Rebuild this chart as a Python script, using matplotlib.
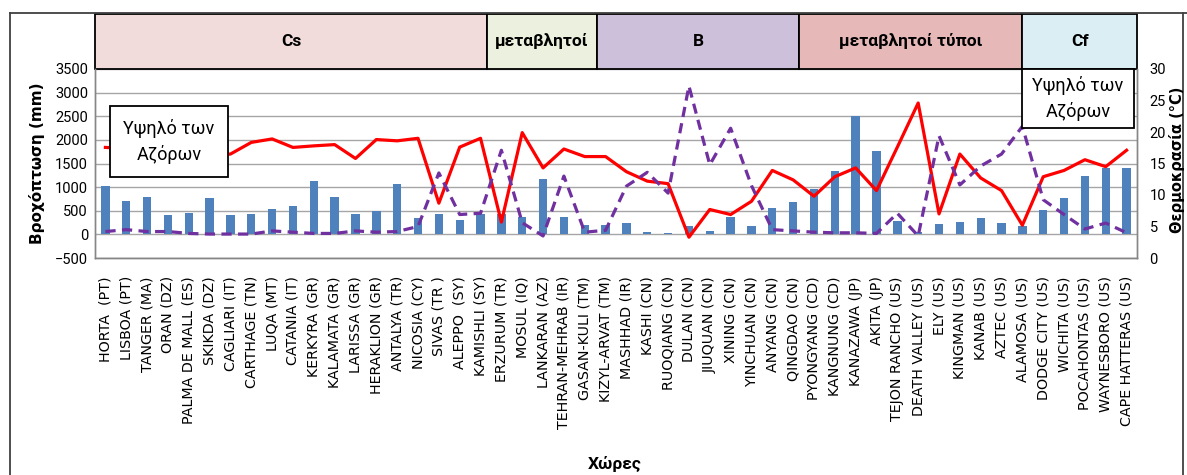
import numpy as np
from matplotlib import pyplot as plt
from matplotlib import transforms
from matplotlib.patches import Rectangle
from matplotlib.lines import Line2D

stations = [
    "HORTA  (PT)", "LISBOA (PT)", "TANGER (MA)", "ORAN (DZ)", "PALMA DE MALL (ES)",
    "SKIKDA (DZ)", "CAGLIARI (IT)", "CARTHAGE (TN)", "LUQA (MT)", "CATANIA (IT)",
    "KERKYRA (GR)", "KALAMATA (GR)", "LARISSA (GR)", "HERAKLION (GR)", "ANTALYA (TR)",
    "NICOSIA (CY)", "SIVAS (TR )", "ALEPPO  (SY)", "KAMISHLI (SY)", "ERZURUM (TR)",
    "MOSUL (IQ)", "LANKARAN (AZ)", "TEHRAN-MEHRAB (IR)", "GASAN-KULI (TM)", "KIZYL-ARVAT (TM)",
    "MASHHAD (IR)", "KASHI (CN)", "RUOQIANG (CN)", "DULAN (CN)", "JIUQUAN (CN)",
    "XINING (CN)", "YINCHUAN (CN)", "ANYANG (CN)", "QINGDAO (CN)", "PYONGYANG (CD)",
    "KANGNUNG (CD)", "KANAZAWA (JP)", "AKITA (JP)", "TEJON RANCHO (US)", "DEATH VALLEY (US)",
    "ELY (US)", "KINGMAN (US)", "KANAB (US)", "AZTEC (US)", "ALAMOSA (US)",
    "DODGE CITY (US)", "WICHITA (US)", "POCAHONTAS (US)", "WAYNESBORO (US)", "CAPE HATTERAS (US)",
]

# precipitation (mm), left axis
rain = [1025, 707, 799, 410, 452, 771, 410, 438, 544, 608,
        1132, 799, 438, 488, 1068, 352, 438, 311, 438, 430,
        374, 1174, 374, 204, 204, 246, 56, 20, 183, 77,
        374, 183, 565, 686, 962, 1344, 2512, 1762, 282, 50,
        225, 268, 352, 246, 183, 516, 777, 1238, 1401, 1401]

# mean temperature (C), right axis
temp = [17.55, 17.4, 17.8, 18.0, 17.2, 16.3, 16.5, 18.35, 18.9, 17.55,
        17.8, 18.0, 15.8, 18.8, 18.6, 19.0, 8.7, 17.6, 19.0, 5.7,
        19.9, 14.3, 17.3, 16.1, 16.1, 13.7, 12.2, 11.8, 3.3, 7.7,
        6.9, 9.0, 13.9, 12.4, 9.8, 12.9, 14.3, 10.7, 17.6, 24.6,
        7.0, 16.5, 12.7, 10.7, 5.2, 12.9, 13.9, 15.6, 14.5, 17.1]

# dashed series, right axis
dashed = [4.2, 4.5, 4.2, 4.2, 3.9, 3.8, 3.8, 3.8, 4.3, 4.1,
          3.9, 3.9, 4.3, 4.1, 4.2, 5.0, 13.5, 6.9, 7.1, 17.1,
          5.6, 3.5, 13.0, 4.1, 4.4, 11.4, 13.6, 10.3, 27.3, 14.8,
          20.6, 11.5, 4.5, 4.3, 4.1, 4.0, 4.0, 3.9, 7.1, 3.5,
          19.4, 11.6, 14.6, 16.5, 20.9, 9.25, 6.9, 4.6, 5.55, 4.0]

# climate groups along the top band (label, start, end in category units)
groups = ["Cs", "μεταβλητοί", "B", "μεταβλητοί τύποι", "Cf"]
group_edges = [-0.5, 18.3, 23.6, 33.3, 44.0, 49.5]
group_colors = ["#F2DCDB", "#EBF1DE", "#CCC0DA", "#E6B9B8", "#DBEEF4"]

W, H = 1187, 475


def fx(x):
    return x / W


def fy(y):
    return 1 - y / H


plt.rcParams.update({
    "font.family": ["DejaVu Sans"],
    "axes.linewidth": 1.0,
})

fig = plt.figure(figsize=(W / 100, H / 100), dpi=100)
ax = fig.add_axes([fx(95), fy(258), fx(1137) - fx(95), fy(69) - fy(258)])
ax2 = ax.twinx()

x = np.arange(len(stations))
ax.bar(x, rain, width=0.4, color="#4F81BD", zorder=3)
ax.set_xlim(-0.5, len(stations) - 0.5)
ax.set_ylim(-500, 3500)
ax.set_yticks(np.arange(-500, 3501, 500))
ax.yaxis.grid(True, color="#A6A6A6", lw=1.0, zorder=0)
ax.set_axisbelow(True)
ax.set_xticks(x)
ax.set_xticklabels(stations, rotation=90, fontsize=10.3, va="top")
ax.tick_params(axis="x", length=0, pad=13)
ax.tick_params(axis="y", length=0, pad=5)
for lab in ax.get_yticklabels():
    lab.set_family("Roboto")
    lab.set_fontsize(10.5)

ax2.plot(x, temp, color="#FF0000", lw=2.3, zorder=4)
ax2.plot(x, dashed, color="#7030A0", lw=2.3, ls=(0, (3.2, 2.0)), zorder=4)
ax2.set_ylim(0, 30)
ax2.set_yticks(np.arange(0, 31, 5))
ax2.tick_params(axis="y", length=0, pad=9)
for lab in ax2.get_yticklabels():
    lab.set_family("Roboto")
    lab.set_fontsize(10.5)

for a in (ax, ax2):
    a.spines["top"].set_visible(False)
    for s in ("left", "right", "bottom"):
        a.spines[s].set_color("#868686")

fig.text(fx(37), fy(163), "Βροχόπτωση (mm)", rotation=90, ha="center", va="center",
         fontsize=11, fontweight="bold")
fig.text(fx(1177), fy(160), "Θερμοκρασία (°C)", rotation=90, ha="center", va="center",
         fontsize=10.5, fontweight="bold")
fig.text(fx(615), fy(464), "Χώρες", ha="center", va="center", fontsize=12.5,
         fontweight="bold", family="Roboto")

# top band of climate types
trans = transforms.blended_transform_factory(ax.transData, fig.transFigure)
for name, x0, x1, c in zip(groups, group_edges[:-1], group_edges[1:], group_colors):
    ax.add_patch(Rectangle((x0, fy(69)), x1 - x0, fy(14) - fy(69), transform=trans,
                           facecolor=c, edgecolor="black", lw=1.3, clip_on=False))
    ax.text((x0 + x1) / 2, fy(41), name, transform=trans, ha="center", va="center",
            fontsize=12.5, fontweight="bold", family="Roboto")

# annotation boxes
for (x0, y0, x1, y1) in [(110, 106, 228, 177), (1022, 69, 1134, 128)]:
    fig.add_artist(Rectangle((fx(x0), fy(y1)), fx(x1) - fx(x0), fy(y0) - fy(y1),
                             transform=fig.transFigure, facecolor="white",
                             edgecolor="black", lw=1.3, zorder=5))
    fig.text(fx((x0 + x1) / 2), fy((y0 + y1) / 2), "Υψηλό των\nΑζόρων", ha="center",
             va="center", fontsize=13, family="Roboto", linespacing=1.45, zorder=6)

# outer chart frame
for xs, ys in [([10, 10], [13, 475]), ([10, 1187], [13, 13]), ([1183, 1183], [13, 475])]:
    fig.add_artist(Line2D([fx(v) for v in xs], [fy(v) for v in ys], color="#404040",
                          lw=1.3, transform=fig.transFigure))

fig.savefig("out.png", dpi=100)
